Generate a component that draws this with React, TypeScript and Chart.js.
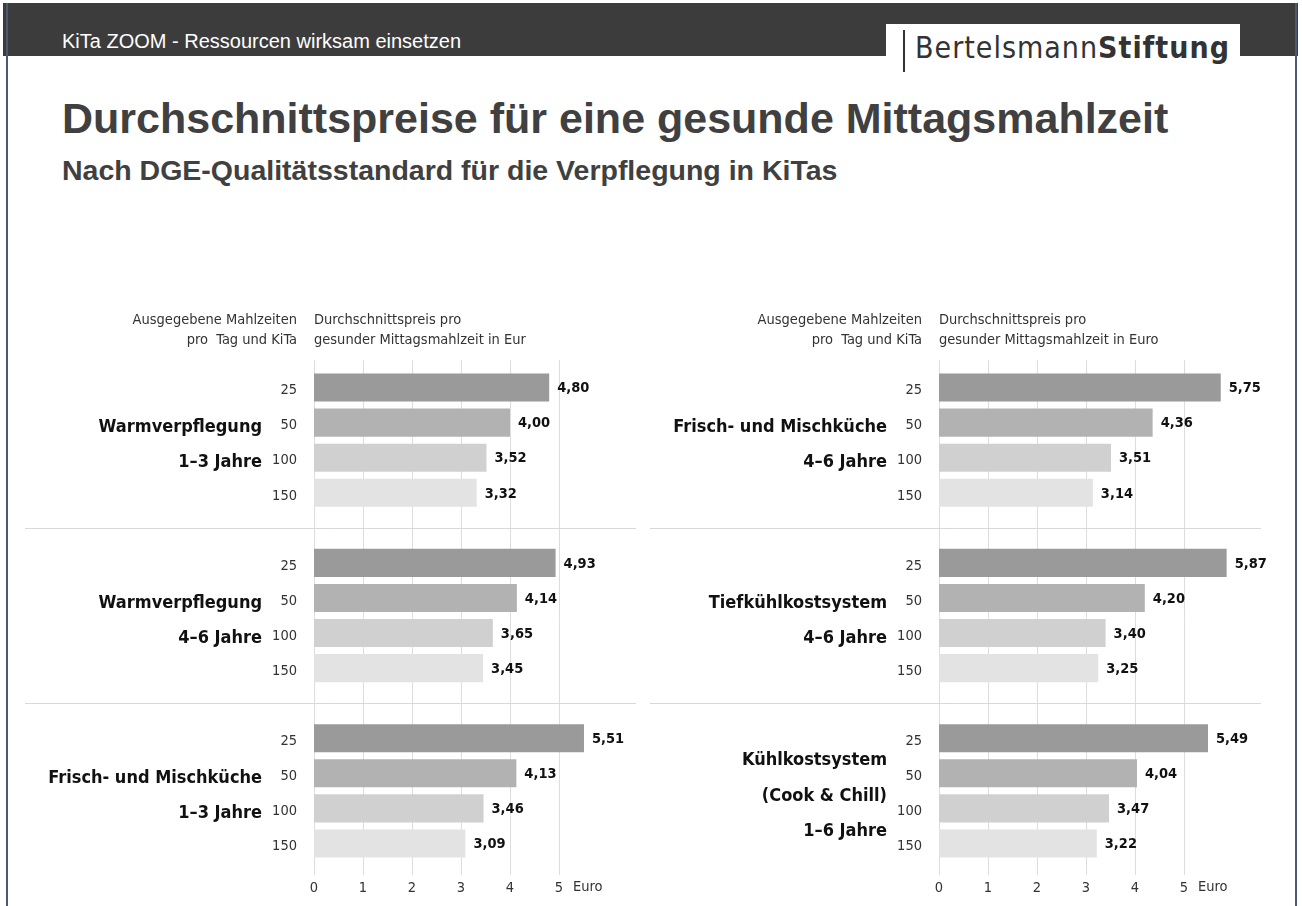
import React, { useEffect, useRef } from 'react';
import { Chart, registerables } from 'chart.js';

Chart.register(...registerables);

// ---------- data ----------
const mealCounts = ['25', '50', '100', '150'];
const xTicks = [0, 1, 2, 3, 4, 5];
const unitLabel = 'Euro';

const leftGroupLabels = [
  ['Warmverpflegung', '1–3 Jahre'],
  ['Warmverpflegung', '4–6 Jahre'],
  ['Frisch- und Mischküche', '1–3 Jahre'],
];
const rightGroupLabels = [
  ['Frisch- und Mischküche', '4–6 Jahre'],
  ['Tiefkühlkostsystem', '4–6 Jahre'],
  ['Kühlkostsystem', '(Cook & Chill)', '1–6 Jahre'],
];

const warm13 = [4.8, 4.0, 3.52, 3.32];
const warm46 = [4.93, 4.14, 3.65, 3.45];
const frisch13 = [5.51, 4.13, 3.46, 3.09];
const frisch46 = [5.75, 4.36, 3.51, 3.14];
const tiefkuehl46 = [5.87, 4.2, 3.4, 3.25];
const kuehl16 = [5.49, 4.04, 3.47, 3.22];

const leftHeaderA = ['Ausgegebene Mahlzeiten', 'pro  Tag und KiTa'];
const leftHeaderB = ['Durchschnittspreis pro', 'gesunder Mittagsmahlzeit in Eur'];
const rightHeaderA = ['Ausgegebene Mahlzeiten', 'pro  Tag und KiTa'];
const rightHeaderB = ['Durchschnittspreis pro', 'gesunder Mittagsmahlzeit in Euro'];

const barColors = ['#9a9a9a', '#b2b2b2', '#d0d0d0', '#e3e3e3'];

// ---------- styling ----------
const CHART_FONT = '"DejaVu Sans Condensed", "Liberation Sans Narrow", "DejaVu Sans", sans-serif';
const fmt = (v: number) => v.toFixed(2).replace('.', ',');

type PanelProps = {
  groups: number[][];
  groupLabels: string[][];
  headerA: string[];
  headerB: string[];
  left: number;
};

function buildRows(groups: number[][]) {
  const labels: string[] = [];
  const values: (number | null)[] = [];
  const colors: string[] = [];
  groups.forEach((g, gi) => {
    g.forEach((v, i) => {
      labels.push(mealCounts[i]);
      values.push(v);
      colors.push(barColors[i]);
    });
    if (gi < groups.length - 1) {
      labels.push('');
      values.push(null);
      colors.push('rgba(0,0,0,0)');
    }
  });
  return { labels, values, colors };
}

function Panel({ groups, groupLabels, headerA, headerB, left }: PanelProps) {
  const ref = useRef<HTMLCanvasElement | null>(null);

  useEffect(() => {
    const canvas = ref.current;
    if (!canvas) return;
    const { labels, values, colors } = buildRows(groups);

    const decor = {
      id: 'decor',
      beforeDatasetsDraw(chart: any) {
        const { ctx, chartArea } = chart;
        const xs = chart.scales.x;
        const ys = chart.scales.y;
        ctx.save();
        ctx.strokeStyle = '#dddddd';
        ctx.lineWidth = 1;
        xTicks.forEach((v) => {
          const x = Math.round(xs.getPixelForValue(v)) + 0.5;
          ctx.beginPath();
          ctx.moveTo(x, chartArea.top - 10);
          ctx.lineTo(x, chartArea.bottom + 14);
          ctx.stroke();
        });
        ctx.strokeStyle = '#d8d8d8';
        for (let g = 1; g < groups.length; g++) {
          const y = Math.round(ys.getPixelForValue(g * 5 - 1)) + 0.5;
          ctx.beginPath();
          ctx.moveTo(5, y);
          ctx.lineTo(616, y);
          ctx.stroke();
        }
        ctx.restore();
      },
      afterDraw(chart: any) {
        const { ctx, chartArea } = chart;
        const xs = chart.scales.x;
        const ys = chart.scales.y;
        ctx.save();
        // value labels
        ctx.font = `bold 14.5px ${CHART_FONT}`;
        ctx.fillStyle = '#111';
        ctx.textAlign = 'left';
        ctx.textBaseline = 'middle';
        values.forEach((v, i) => {
          if (v == null) return;
          ctx.fillText(fmt(v), xs.getPixelForValue(v) + 8, ys.getPixelForValue(i) + 1);
        });
        // group labels
        ctx.font = `bold 18px ${CHART_FONT}`;
        ctx.textAlign = 'right';
        groupLabels.forEach((lines, gi) => {
          const base = gi * 5;
          const p0 = ys.getPixelForValue(base);
          const p1 = ys.getPixelForValue(base + 1);
          const step = p1 - p0;
          const start = lines.length === 2 ? 1 : 0.5;
          lines.forEach((t, li) => {
            ctx.fillText(t, chartArea.left - 52, p0 + (start + li) * step + 5);
          });
        });
        // headers
        ctx.font = `14.5px ${CHART_FONT}`;
        ctx.fillStyle = '#333';
        ctx.textAlign = 'right';
        headerA.forEach((t, i) => ctx.fillText(t, chartArea.left - 17, chartArea.top - 50 + i * 20));
        ctx.textAlign = 'left';
        headerB.forEach((t, i) => ctx.fillText(t, chartArea.left, chartArea.top - 50 + i * 20));
        // unit label
        ctx.font = `14.5px ${CHART_FONT}`;
        ctx.textBaseline = 'top';
        ctx.fillText(unitLabel, xs.getPixelForValue(xTicks[xTicks.length - 1]) + 14, xs.top + 19);
        ctx.restore();
      },
    };

    const chart = new Chart(canvas, {
      type: 'bar',
      data: {
        labels,
        datasets: [
          {
            data: values as any,
            backgroundColor: colors,
            borderWidth: 0,
            categoryPercentage: 1,
            barPercentage: 0.8,
          },
        ],
      },
      options: {
        indexAxis: 'y',
        animation: false,
        responsive: false,
        maintainAspectRatio: false,
        layout: { padding: { top: 70, right: 42, bottom: 0, left: 0 } },
        plugins: { legend: { display: false }, tooltip: { enabled: false } },
        scales: {
          x: {
            type: 'linear',
            min: 0,
            max: 6,
            afterBuildTicks: (s: any) => {
              s.ticks = xTicks.map((v) => ({ value: v }));
            },
            afterFit: (s: any) => {
              s.height = 45;
            },
            grid: { display: false, drawTicks: false },
            border: { display: false },
            ticks: {
              color: '#333',
              font: { family: CHART_FONT, size: 14.5 },
              padding: 19,
              maxRotation: 0,
              callback: (v: any) => String(v),
            },
          },
          y: {
            type: 'category',
            afterFit: (s: any) => {
              s.width = 294;
            },
            grid: { display: false, drawTicks: false },
            border: { display: false },
            ticks: {
              color: '#333',
              font: { family: CHART_FONT, size: 14.5 },
              padding: 17,
              labelOffset: 3,
              autoSkip: false,
            },
          },
        },
      },
      plugins: [decor],
    } as any);
    return () => chart.destroy();
  }, []);

  return (
    <canvas
      ref={ref}
      width={630}
      height={606}
      style={{ position: 'absolute', left, top: 300, width: 630, height: 606 }}
    />
  );
}

export default function App() {
  return (
    <div
      style={{
        position: 'absolute',
        left: 0,
        top: 0,
        width: 1302,
        height: 906,
        background: '#fff',
        overflow: 'hidden',
        fontFamily: '"Liberation Sans", Arial, sans-serif',
      }}
    >
      <div style={{ position: 'absolute', left: 3, top: 3, width: 1295, height: 53, background: '#3c3c3c' }} />
      <div style={{ position: 'absolute', left: 62, top: 30, color: '#fff', fontSize: 20, whiteSpace: 'nowrap' }}>
        KiTa ZOOM - Ressourcen wirksam einsetzen
      </div>
      <div style={{ position: 'absolute', left: 886, top: 24, width: 354, height: 48, background: '#fff' }} />
      <div style={{ position: 'absolute', left: 903, top: 30, width: 2, height: 42, background: '#333' }} />
      <div
        style={{
          position: 'absolute',
          left: 915,
          top: 30,
          fontSize: 30,
          color: '#333',
          letterSpacing: 1,
          whiteSpace: 'nowrap',
          fontFamily: CHART_FONT,
        }}
      >
        Bertelsmann<b>Stiftung</b>
      </div>
      <div
        style={{
          position: 'absolute',
          left: 62,
          top: 94,
          fontSize: 43,
          fontWeight: 'bold',
          color: '#404040',
          whiteSpace: 'nowrap',
          fontFamily: '"Liberation Sans Narrow", "Liberation Sans", sans-serif',
        }}
      >
        Durchschnittspreise für eine gesunde Mittagsmahlzeit
      </div>
      <div
        style={{
          position: 'absolute',
          left: 62,
          top: 154,
          fontSize: 28.5,
          fontWeight: 'bold',
          color: '#404040',
          whiteSpace: 'nowrap',
          fontFamily: '"Liberation Sans Narrow", "Liberation Sans", sans-serif',
        }}
      >
        Nach DGE-Qualitätsstandard für die Verpflegung in KiTas
      </div>
      <Panel
        groups={[warm13, warm46, frisch13]}
        groupLabels={leftGroupLabels}
        headerA={leftHeaderA}
        headerB={leftHeaderB}
        left={20}
      />
      <Panel
        groups={[frisch46, tiefkuehl46, kuehl16]}
        groupLabels={rightGroupLabels}
        headerA={rightHeaderA}
        headerB={rightHeaderB}
        left={645}
      />
      <div style={{ position: 'absolute', left: 6, top: 3, width: 2, height: 903, background: '#4d5873' }} />
      <div style={{ position: 'absolute', left: 1295, top: 3, width: 2, height: 903, background: '#4d5873' }} />
    </div>
  );
}
